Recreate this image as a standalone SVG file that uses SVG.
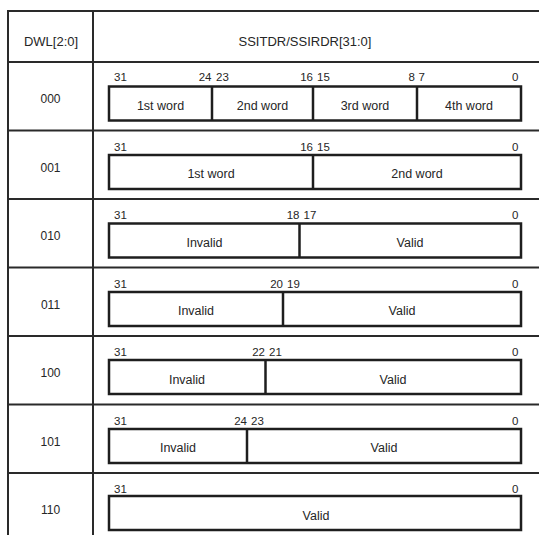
<svg xmlns="http://www.w3.org/2000/svg" width="539" height="535" viewBox="0 0 539 535">
<style>
.grid{stroke:#2a2a2a;stroke-width:2;fill:none}
.box{stroke:#1e1e1e;stroke-width:2.5;fill:#fff}
.div{stroke:#1e1e1e;stroke-width:2.5}
text{font-family:"Liberation Sans",Arial,sans-serif;fill:#262626}
.lbl{font-size:12px;text-anchor:middle}
.hdr{font-size:13px;text-anchor:middle}
.bit{font-size:11.5px}
.w{font-size:12.5px;text-anchor:middle}
.e{text-anchor:end}
</style>
<rect width="539" height="535" fill="#fff"/>
<g id="table" class="grid">
<line x1="8" y1="10" x2="8" y2="535"/>
<line x1="93" y1="10" x2="93" y2="535"/>
<line x1="7" y1="11" x2="539" y2="11"/>
<line x1="7" y1="62" x2="539" y2="62"/>
<line x1="7" y1="130.5" x2="539" y2="130.5"/>
<line x1="7" y1="199" x2="539" y2="199"/>
<line x1="7" y1="267.5" x2="539" y2="267.5"/>
<line x1="7" y1="336" x2="539" y2="336"/>
<line x1="7" y1="404.5" x2="539" y2="404.5"/>
<line x1="7" y1="473" x2="539" y2="473"/>
</g>
<g id="header">
<text class="hdr" x="51" y="46">DWL[2:0]</text>
<text class="hdr" x="305" y="46">SSITDR/SSIRDR[31:0]</text>
</g>
<g id="row000">
<text class="lbl" x="50.5" y="103">000</text>
<text class="bit" x="114" y="81">31</text>
<text class="bit e" x="211.5" y="81">24</text><text class="bit" x="216" y="81">23</text>
<text class="bit e" x="313" y="81">16</text><text class="bit" x="317" y="81">15</text>
<text class="bit e" x="415" y="81">8</text><text class="bit" x="418.5" y="81">7</text>
<text class="bit e" x="518.5" y="81">0</text>
<rect class="box" x="109" y="86.5" width="412" height="34"/>
<line class="div" x1="212" y1="86.5" x2="212" y2="120.5"/>
<line class="div" x1="313" y1="86.5" x2="313" y2="120.5"/>
<line class="div" x1="417" y1="86.5" x2="417" y2="120.5"/>
<text class="w" x="160.5" y="109.5">1st word</text>
<text class="w" x="262.5" y="109.5">2nd word</text>
<text class="w" x="365" y="109.5">3rd word</text>
<text class="w" x="469" y="109.5">4th word</text>
</g>
<g id="row001">
<text class="lbl" x="50.5" y="171.5">001</text>
<text class="bit" x="114" y="150.5">31</text>
<text class="bit e" x="313" y="150.5">16</text><text class="bit" x="317" y="150.5">15</text>
<text class="bit e" x="518.5" y="150.5">0</text>
<rect class="box" x="109" y="155" width="412" height="34"/>
<line class="div" x1="313" y1="155" x2="313" y2="189"/>
<text class="w" x="211" y="178">1st word</text>
<text class="w" x="417" y="178">2nd word</text>
</g>
<g id="row010">
<text class="lbl" x="50.5" y="240">010</text>
<text class="bit" x="114" y="219">31</text>
<text class="bit e" x="299.5" y="219">18</text><text class="bit" x="303.5" y="219">17</text>
<text class="bit e" x="518.5" y="219">0</text>
<rect class="box" x="109" y="223.5" width="412" height="34"/>
<line class="div" x1="299.5" y1="223.5" x2="299.5" y2="257.5"/>
<text class="w" x="204.5" y="246.5">Invalid</text>
<text class="w" x="410" y="246.5">Valid</text>
</g>
<g id="row011">
<text class="lbl" x="50.5" y="308.5">011</text>
<text class="bit" x="114" y="287.5">31</text>
<text class="bit e" x="283" y="287.5">20</text><text class="bit" x="287" y="287.5">19</text>
<text class="bit e" x="518.5" y="287.5">0</text>
<rect class="box" x="109" y="292" width="412" height="34"/>
<line class="div" x1="283" y1="292" x2="283" y2="326"/>
<text class="w" x="196" y="315">Invalid</text>
<text class="w" x="402" y="315">Valid</text>
</g>
<g id="row100">
<text class="lbl" x="50.5" y="377">100</text>
<text class="bit" x="114" y="356">31</text>
<text class="bit e" x="265" y="356">22</text><text class="bit" x="269" y="356">21</text>
<text class="bit e" x="518.5" y="356">0</text>
<rect class="box" x="109" y="360" width="412" height="34"/>
<line class="div" x1="265.5" y1="360" x2="265.5" y2="394"/>
<text class="w" x="187" y="383.5">Invalid</text>
<text class="w" x="393" y="383.5">Valid</text>
</g>
<g id="row101">
<text class="lbl" x="50.5" y="445.5">101</text>
<text class="bit" x="114" y="424.5">31</text>
<text class="bit e" x="247" y="424.5">24</text><text class="bit" x="251" y="424.5">23</text>
<text class="bit e" x="518.5" y="424.5">0</text>
<rect class="box" x="109" y="429" width="412" height="34"/>
<line class="div" x1="247" y1="429" x2="247" y2="463"/>
<text class="w" x="178" y="452">Invalid</text>
<text class="w" x="384" y="452">Valid</text>
</g>
<g id="row110">
<text class="lbl" x="50.5" y="514">110</text>
<text class="bit" x="114" y="493">31</text>
<text class="bit e" x="518.5" y="493">0</text>
<rect class="box" x="109" y="496" width="412" height="34"/>
<text class="w" x="316" y="519.5">Valid</text>
</g>
</svg>
